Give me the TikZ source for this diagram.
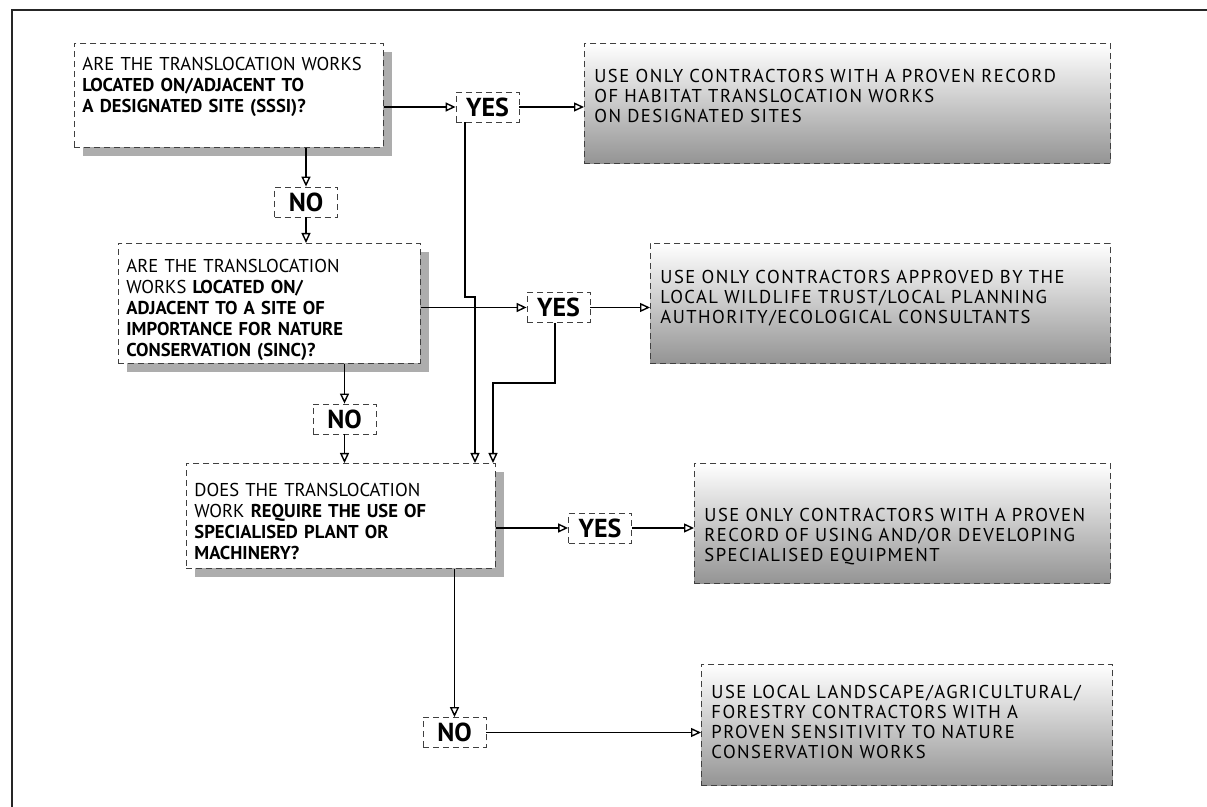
\documentclass[tikz,border=0pt]{standalone}
\usepackage{fontspec}
\setmainfont{PT Sans}
\newfontfamily\widefont[LetterSpace=8]{PT Sans}
\usepackage{tikz}
\usetikzlibrary{arrows.meta,positioning,shadows,calc}

\begin{document}
\begin{tikzpicture}[
        x=0.5pt, y=-0.5pt,
        >={Triangle[open, length=5pt, width=4.5pt]},
        box/.style={draw=black!75, densely dashed, line width=0.4pt, inner sep=0pt, anchor=north west, align=left},
        question/.style={box, fill=white, inner xsep=4pt, font=\fontsize{9.3}{10.5}\selectfont,
            drop shadow={shadow xshift=4.5pt, shadow yshift=-4.5pt, fill=black!32, opacity=1}},
        advice/.style={box, inner xsep=5pt, top color=white, middle color=black!15, bottom color=black!42,
            font=\widefont\fontsize{9.3}{10}\selectfont},
        reply/.style={draw=black!75, densely dashed, line width=0.4pt, fill=white, inner sep=0pt,
            minimum width=31.5pt, minimum height=15pt, font=\fontsize{13}{15}\selectfont\bfseries},
        link/.style={->, line width=0.7pt}
    ]
    \useasboundingbox (0,0) rectangle (1207,807);
    \draw[line width=1pt, black!85] (12,807) -- (12,10) -- (1207,10);

    \node (q1) [question, text width=146.5pt, text height=13.5pt, text depth=38.5pt] at (74,43)
        {ARE THE TRANSLOCATION WORKS\\ \textbf{LOCATED ON/ADJACENT TO}\\ \textbf{A DESIGNATED SITE (SSSI)?}};
    \node (q2) [question, text width=143pt, text height=14.5pt, text depth=45.5pt] at (118,243)
        {ARE THE TRANSLOCATION\\ WORKS \textbf{LOCATED ON/}\\ \textbf{ADJACENT TO A SITE OF}\\
         \textbf{IMPORTANCE FOR NATURE}\\ \textbf{CONSERVATION (SINC)?}};
    \node (q3) [question, text width=146.5pt, text height=16.5pt, text depth=36pt] at (186,463)
        {DOES THE TRANSLOCATION\\ WORK \textbf{REQUIRE THE USE OF}\\ \textbf{SPECIALISED PLANT OR}\\
         \textbf{MACHINERY?}};

    \node (r1) [advice, text width=253pt, text height=19.5pt, text depth=40.5pt] at (584,43)
        {USE ONLY CONTRACTORS WITH A PROVEN RECORD\\ OF HABITAT TRANSLOCATION WORKS\\ ON DESIGNATED SITES};
    \node (r2) [advice, text width=220pt, text height=20pt, text depth=40pt] at (650,243)
        {USE ONLY CONTRACTORS APPROVED BY THE\\ LOCAL WILDLIFE TRUST/LOCAL PLANNING\\ AUTHORITY/ECOLOGICAL CONSULTANTS};
    \node (r3) [advice, text width=198pt, text height=29pt, text depth=31pt] at (694,463)
        {USE ONLY CONTRACTORS WITH A PROVEN\\ RECORD OF USING AND/OR DEVELOPING\\ SPECIALISED EQUIPMENT};
    \node (r4) [advice, text width=195.5pt, text height=17pt, text depth=43.5pt] at (701,664)
        {USE LOCAL LANDSCAPE/AGRICULTURAL/\\ FORESTRY CONTRACTORS WITH A\\ PROVEN SENSITIVITY TO NATURE\\
         CONSERVATION WORKS};

    \node (yes1) [reply] at (487.5,107) {YES};
    \node (no1) [reply] at (306,202) {NO};
    \node (yes2) [reply] at (558.5,307.5) {YES};
    \node (no2) [reply] at (344.5,419) {NO};
    \node (yes3) [reply] at (600,528) {YES};
    \node (no3) [reply] at (454.5,732.5) {NO};

    \coordinate (jog1) at (475,297);
    \coordinate (jog2) at (493,383);

    \draw[link] (q1.east |- yes1) -- (yes1);
    \draw[link] (yes1) -- (yes1 -| r1.west);
    \draw[link] (no1 |- q1.south) -- (no1);
    \draw[link] (no1) -- (no1 |- q2.north);
    \draw[link] (q2.east |- yes2) -- (yes2);
    \draw[link] (yes2) -- (yes2 -| r2.west);
    \draw[link] (no2 |- q2.south) -- (no2);
    \draw[link] (no2) -- (no2 |- q3.north);
    \draw[link] ([xshift=-11.25pt]yes1.south) |- (jog1) -- (jog1 |- q3.north);
    \draw[link] ([xshift=-1.75pt]yes2.south) |- (jog2) -- (jog2 |- q3.north);
    \draw[link] (q3.east |- yes3) -- (yes3);
    \draw[link] (yes3) -- (yes3 -| r3.west);
    \draw[link] (no3 |- q3.south) -- (no3);
    \draw[link] (no3) -- (no3 -| r4.west);
\end{tikzpicture}
\end{document}
